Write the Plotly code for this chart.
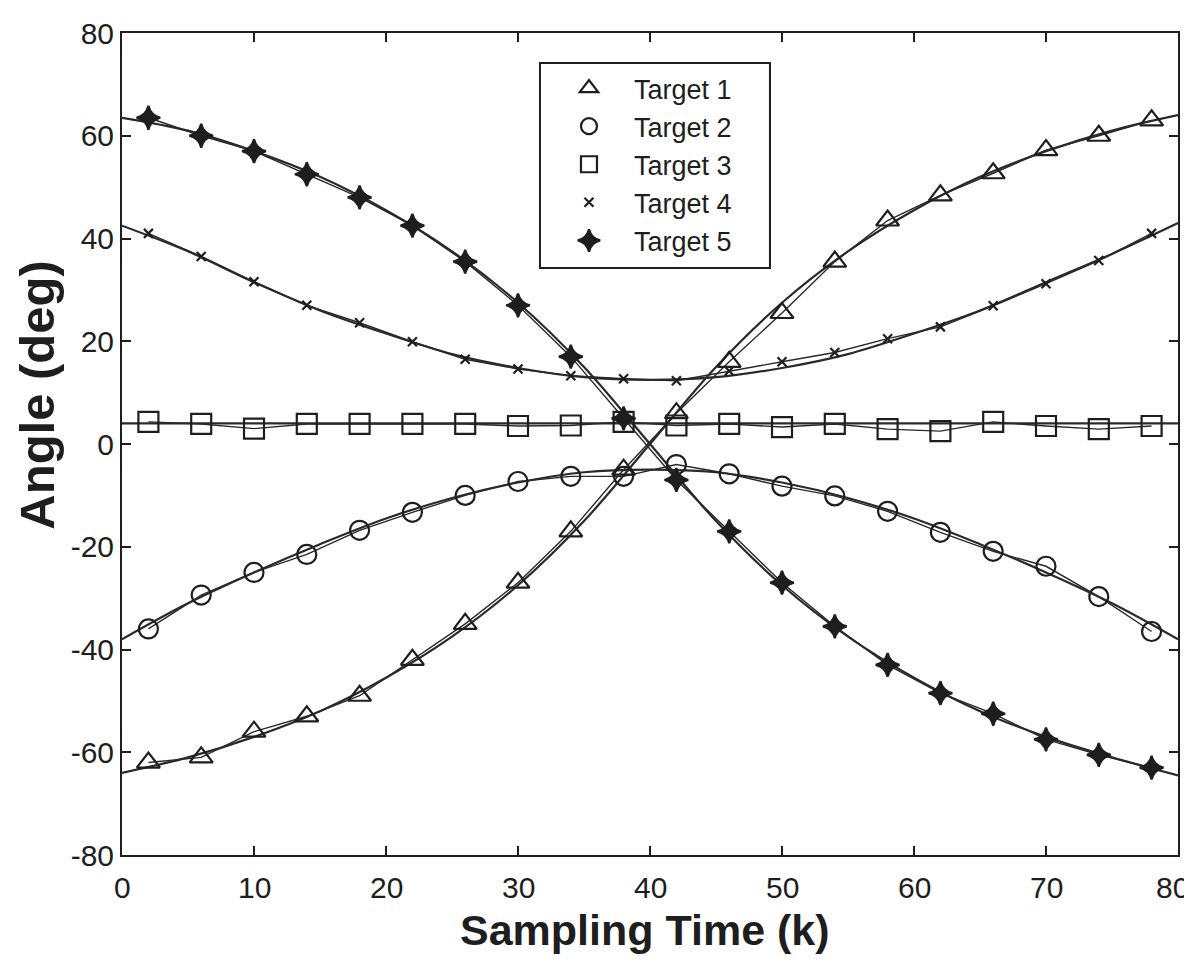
import plotly.graph_objects as go

# ---------------- data ----------------
k_est = [2, 6, 10, 14, 18, 22, 26, 30, 34, 38, 42, 46, 50, 54, 58, 62, 66, 70, 74, 78]
k_true = [0, 5, 10, 15, 20, 25, 30, 35, 40, 45, 50, 55, 60, 65, 70, 75, 80]

est_t1 = [-62, -61, -56, -53, -49, -42, -35, -27, -17, -5, 6, 16, 25.5, 35.5, 43.5, 48.4, 52.7, 57.2, 60, 63]
est_t2 = [-36, -29.4, -25, -21.5, -16.8, -13.3, -10, -7.3, -6.3, -6.3, -4, -5.8, -8.2, -10.1, -13.1, -17.2, -20.9, -23.8, -29.7, -36.5]
est_t3 = [4.3, 3.9, 3.0, 3.9, 3.9, 3.9, 3.9, 3.5, 3.6, 4.3, 3.6, 3.9, 3.3, 3.9, 2.9, 2.5, 4.3, 3.5, 2.9, 3.5]
est_t4 = [41, 36.5, 31.6, 27, 23.6, 19.9, 16.5, 14.6, 13.3, 12.7, 12.3, 14.2, 16, 17.8, 20.5, 22.8, 26.9, 31.2, 35.7, 41]
est_t5 = [63.5, 60, 57, 52.5, 48, 42.5, 35.5, 27, 17, 5, -7, -17, -27, -35.5, -43, -48.5, -52.5, -57.5, -60.5, -63]

true_t1 = [-64, -61, -57, -52, -45.5, -37.5, -27.5, -15, 0, 15, 27.5, 37.5, 45.5, 52, 57, 61, 64]
true_t2 = [-38, -31, -25, -19.5, -14.5, -10.5, -7.5, -5.5, -5, -5.5, -7.5, -10.5, -14.5, -19.5, -25, -31, -38]
true_t3 = [4, 4, 4, 4, 4, 4, 4, 4, 4, 4, 4, 4, 4, 4, 4, 4, 4]
true_t4 = [42.5, 37.5, 31.5, 26, 21.5, 17.5, 14.8, 13, 12.5, 13, 14.8, 17.5, 21.5, 26, 31.5, 37, 43]
true_t5 = [63.5, 61, 57, 52, 45.5, 37.5, 27.5, 15, 0, -15, -27.5, -37.5, -45.5, -52, -57, -61, -64.5]

names = ["Target 1", "Target 2", "Target 3", "Target 4", "Target 5"]
x_ticks = [0, 10, 20, 30, 40, 50, 60, 70, 80]
x_ticklabels = ["0", "10", "20", "30", "40", "50", "60", "70", "80"]
y_ticks = [-80, -60, -40, -20, 0, 20, 40, 60, 80]
y_ticklabels = ["-80", "-60", "-40", "-20", "0", "20", "40", "60", "80"]

# ---------------- style ----------------
INK = "#1e1e1e"
LINE = "#2a2a2a"
FONT = "Liberation Sans, Arial, sans-serif"

symbols = ["triangle-up-open", "circle-open", "square-open", "x-thin-open", "star-diamond"]
sizes = [20, 19, 20, 9, 17]

fig = go.Figure()

trues = [true_t1, true_t2, true_t3, true_t4, true_t5]
ests = [est_t1, est_t2, est_t3, est_t4, est_t5]

for tv in trues:
    fig.add_trace(go.Scatter(x=k_true, y=tv, mode="lines", line=dict(color=LINE, width=2.2, shape="spline"),
                             showlegend=False, hoverinfo="skip"))
for ev in ests:
    fig.add_trace(go.Scatter(x=k_est, y=ev, mode="lines", line=dict(color=LINE, width=1.4),
                             showlegend=False, hoverinfo="skip"))
for name, ev, sym, sz in zip(names, ests, symbols, sizes):
    fig.add_trace(go.Scatter(x=k_est, y=ev, mode="markers", name=name,
                             marker=dict(symbol=sym, size=sz, color=INK,
                                         line=dict(color=INK, width=2.2))))

# page has an 8px body margin; keep the page inside the 1192x969 window
W, H = 1184, 953
ML, MR, MT, MB = 114, 14, 25, 106
fig.update_layout(
    width=W, height=H,
    margin=dict(l=ML, r=MR, t=MT, b=MB, autoexpand=False),
    paper_bgcolor="white", plot_bgcolor="white",
    font=dict(family=FONT, color=INK, size=28),
    showlegend=True,
    legend=dict(x=0.3996, y=0.9623, xanchor="left", yanchor="top",
                bgcolor="rgba(0,0,0,0)", borderwidth=0,
                font=dict(family=FONT, size=27, color=INK),
                itemwidth=80, tracegroupgap=0),
)
# legend frame
fig.add_shape(type="rect", xref="paper", yref="paper",
              x0=0.3958, x1=0.6136, y0=0.7141, y1=0.9635,
              line=dict(color=INK, width=2), fillcolor="white", layer="above")

fig.update_xaxes(range=[0, 80], tickvals=x_ticks, showticklabels=False,
                 ticks="inside", ticklen=9, tickwidth=2, tickcolor=INK,
                 showline=True, linecolor=INK, linewidth=2, mirror="ticks",
                 showgrid=False, zeroline=False)
fig.update_yaxes(range=[-80, 80], tickvals=y_ticks, ticktext=y_ticklabels,
                 ticks="inside", ticklen=9, tickwidth=2, tickcolor=INK,
                 showline=True, linecolor=INK, linewidth=2, mirror="ticks",
                 showgrid=False, zeroline=False,
                 tickfont=dict(size=30, family=FONT, color=INK))

# x tick labels (last one kept inside the page edge)
for i, (tv, tl) in enumerate(zip(x_ticks, x_ticklabels)):
    last = i == len(x_ticks) - 1
    fig.add_annotation(text=tl, xref="x", yref="paper", x=tv, y=0,
                       xanchor="right" if last else "center", yanchor="middle",
                       xshift=13 if last else 0, yshift=-32, showarrow=False,
                       font=dict(size=30, family=FONT, color=INK))

fig.add_annotation(text="<b>Sampling Time (k)</b>", xref="paper", yref="paper",
                   x=0.4953, y=-0.0912, xanchor="center", yanchor="middle", showarrow=False,
                   font=dict(size=43, family=FONT, color=INK))
fig.add_annotation(text="<b>Angle (deg)</b>", textangle=-90, xref="paper", yref="paper",
                   x=-0.0805, y=0.56, xanchor="center", yanchor="middle", showarrow=False,
                   font=dict(size=49, family=FONT, color=INK))

fig.write_html("out.html")
